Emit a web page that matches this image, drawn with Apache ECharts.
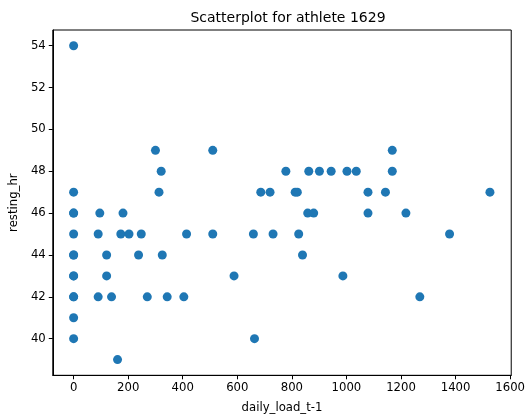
<!DOCTYPE html>
<html>
<head>
<meta charset="utf-8">
<script src="https://cdn.jsdelivr.net/npm/echarts@6/dist/echarts.min.js"></script>
<style>html,body{margin:0;padding:0;background:#fff}#c{width:528px;height:420px}</style>
</head>
<body>
<div id="c"></div>
<script>
var titleText = 'Scatterplot for athlete 1629';
var xName = 'daily_load_t-1';
var yName = 'resting_hr';
var xTicks = [0, 200, 400, 600, 800, 1000, 1200, 1400, 1600];
var yTicks = [40, 42, 44, 46, 48, 50, 52, 54];
var dailyLoad = [0,0,0,0,0,0,0,0,0,0,0,0,0,
  96,181,300,510,321,313,
  90,173,203,248,414,510,
  121,238,325,
  121,
  90,139,270,343,404,
  161,
  778,862,901,944,1002,1036,
  686,720,812,820,1079,
  858,880,1079,
  659,731,825,
  839,
  588,987,
  663,
  1168,1168,1143,1526,1218,1378,1269];
var restingHr = [54,47,46,46,45,44,44,43,43,42,42,41,40,
  46,46,49,49,48,47,
  45,45,45,45,45,45,
  44,44,44,
  43,
  42,42,42,42,42,
  39,
  48,48,48,48,48,48,
  47,47,47,47,47,
  46,46,46,
  45,45,45,
  44,
  43,43,
  40,
  49,48,47,47,46,45,42];

var pts = dailyLoad.map(function (v, i) { return [v, restingHr[i]]; });
var chart = echarts.init(document.getElementById('c'), null, {renderer: 'canvas'});
var font = 'DejaVu Sans';
function plain(v) { return String(v); }
chart.setOption({
  animation: false,
  title: {
    text: titleText, left: 283, top: 6, textAlign: 'center',
    textStyle: {fontFamily: font, fontSize: 14, fontWeight: 'normal', color: '#000'}
  },
  grid: {left: 51.3, right: 12.7, top: 30, bottom: 44.7, show: true, borderColor: '#000', borderWidth: 1, backgroundColor: 'transparent'},
  xAxis: {
    type: 'value', min: -76.4, max: 1604,
    name: xName, nameLocation: 'middle', nameGap: 27,
    nameTextStyle: {fontFamily: font, fontSize: 11.7, color: '#000'},
    splitLine: {show: false},
    axisLine: {show: true, onZero: false, lineStyle: {color: '#000', width: 1}},
    axisTick: {show: true, length: 4, lineStyle: {color: '#000'}, customValues: xTicks},
    axisLabel: {fontFamily: font, fontSize: 11.7, color: '#000', margin: 7, customValues: xTicks, formatter: plain}
  },
  yAxis: {
    type: 'value', min: 38.25, max: 54.75,
    name: yName, nameLocation: 'middle', nameGap: 28, nameRotate: 90,
    nameTextStyle: {fontFamily: font, fontSize: 11.7, color: '#000'},
    splitLine: {show: false},
    axisLine: {show: true, onZero: false, lineStyle: {color: '#000', width: 1}},
    axisTick: {show: true, length: 4, lineStyle: {color: '#000'}, customValues: yTicks},
    axisLabel: {fontFamily: font, fontSize: 11.7, color: '#000', margin: 7, customValues: yTicks, formatter: plain}
  },
  series: [{
    type: 'scatter', data: pts, symbolSize: 9,
    itemStyle: {color: '#1f77b4', opacity: 1}
  }]
});
</script>
</body>
</html>
